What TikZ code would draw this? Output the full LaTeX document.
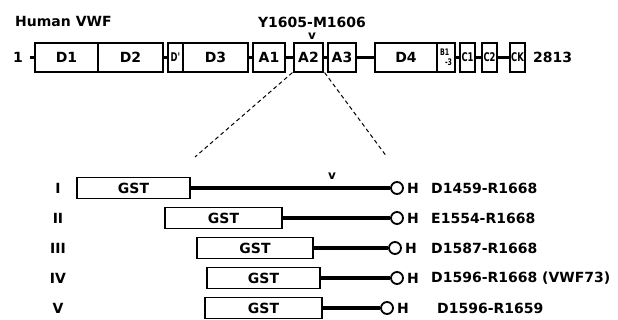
\documentclass[tikz,border=0pt]{standalone}
\usepackage{fontspec}
\setmainfont{DejaVu Sans}
\newfontfamily\narrowfont[FakeStretch=0.7]{DejaVu Sans}
\begin{document}
\begin{tikzpicture}[x=1pt,y=-1pt,
  txt/.style={font=\bfseries\fontsize{14}{14}\selectfont, inner sep=0pt},
  dom/.style={draw, line width=1.2pt, minimum height=29pt, inner sep=0pt, font=\bfseries\fontsize{14}{14}\selectfont},
  smalldom/.style={dom, font=\narrowfont\bfseries\fontsize{12}{12}\selectfont},
  link/.style={line width=2.5pt},
  gst/.style={draw, line width=1.2pt, minimum height=21pt, inner sep=0pt, font=\bfseries\fontsize{14}{14}\selectfont},
  arm/.style={line width=3.5pt},
  tipc/.style={circle, draw, line width=1.8pt, minimum size=12pt, inner sep=0pt},
  zoomline/.style={line width=1pt, dash pattern=on 4pt off 3pt},
  sitemark/.style={font=\bfseries\fontsize{12}{12}\selectfont, inner sep=0pt}
]
\useasboundingbox (0,0) rectangle (618,320);

% titles
\node[txt, anchor=west] (title) at (15,21) {Human VWF};
\node[txt] (site) at (312,22) {Y1605-M1606};
\node[sitemark] (vtop) at (312,36) {v};

% domain row
\node[txt] (one) at (18,57.5) {1};
\coordinate (start) at (30,57.5);
\node[dom, minimum width=63pt] (d1) at (66.5,57.5) {D1};
\node[dom, minimum width=65pt] (d2) at (130.5,57.5) {D2};
\node[smalldom, minimum width=15pt] (dp) at (175.5,57.5) {D'};
\node[dom, minimum width=65pt] (d3) at (215.5,57.5) {D3};
\node[dom, minimum width=32pt] (a1) at (269,57.5) {A1};
\node[dom, minimum width=29pt] (a2) at (308.5,57.5) {A2};
\node[dom, minimum width=28pt] (a3) at (342,57.5) {A3};
\node[dom, minimum width=62pt] (d4) at (406,57.5) {D4};
\node[smalldom, minimum width=18pt, align=left, font=\narrowfont\bfseries\fontsize{9}{10}\selectfont] (b13) at (446,57.5) {B1\\\hspace*{5pt}-3};
\node[smalldom, minimum width=15pt] (c1) at (467.5,57.5) {C1};
\node[smalldom, minimum width=15pt] (c2) at (489.5,57.5) {C2};
\node[smalldom, minimum width=15pt] (ck) at (517.5,57.5) {CK};
\node[txt, anchor=west] (end) at (533,57.5) {2813};

\draw[link] (start) -- (d1.west);
\draw[link] (d2.east) -- (dp.west);
\draw[link] (d3.east) -- (a1.west);
\draw[link] (a1.east) -- (a2.west);
\draw[link] (a2.east) -- (a3.west);
\draw[link] (a3.east) -- (d4.west);
\draw[link] (b13.east) -- (c1.west);
\draw[link] (c1.east) -- (c2.west);
\draw[link] (c2.east) -- (ck.west);

% zoom lines
\coordinate (zl) at (195,157);
\coordinate (zr) at (387,157);
\draw[zoomline] ([xshift=-1pt]a2.south west) -- (zl);
\draw[zoomline] ([xshift=1pt]a2.south east) -- (zr);

% constructs
\node[txt] (r1) at (58,188) {I};
\node[txt] (r2) at (58,218) {II};
\node[txt] (r3) at (58,248) {III};
\node[txt] (r4) at (58,278) {IV};
\node[txt] (r5) at (58,308) {V};

\node[gst, minimum width=113pt] (g1) at (133.5,188) {GST};
\node[gst, minimum width=117pt] (g2) at (223.5,218) {GST};
\node[gst, minimum width=116pt] (g3) at (255,248) {GST};
\node[gst, minimum width=113pt] (g4) at (263.5,278) {GST};
\node[gst, minimum width=117pt] (g5) at (263.5,308) {GST};

\node[tipc] (t1) at (397,188) {};
\node[tipc] (t2) at (397,218) {};
\node[tipc] (t3) at (395,248) {};
\node[tipc] (t4) at (397,278) {};
\node[tipc] (t5) at (387,308) {};

\draw[arm] (g1.east) -- (t1.west);
\draw[arm] (g2.east) -- (t2.west);
\draw[arm] (g3.east) -- (t3.west);
\draw[arm] (g4.east) -- (t4.west);
\draw[arm] (g5.east) -- (t5.west);

\node[sitemark] (vrow) at (332,176) {v};

\node[txt] (h1) at (413,188) {H};
\node[txt] (h2) at (413,218) {H};
\node[txt] (h3) at (411,248) {H};
\node[txt] (h4) at (413,278) {H};
\node[txt] (h5) at (403,308) {H};

\node[txt, anchor=west] (l1) at (431,188) {D1459-R1668};
\node[txt, anchor=west] (l2) at (431,218) {E1554-R1668};
\node[txt, anchor=west] (l3) at (431,248) {D1587-R1668};
\node[txt, anchor=west] (l4) at (431,278) {D1596-R1668 (VWF73)};
\node[txt, anchor=west] (l5) at (437,308) {D1596-R1659};
\end{tikzpicture}
\end{document}
